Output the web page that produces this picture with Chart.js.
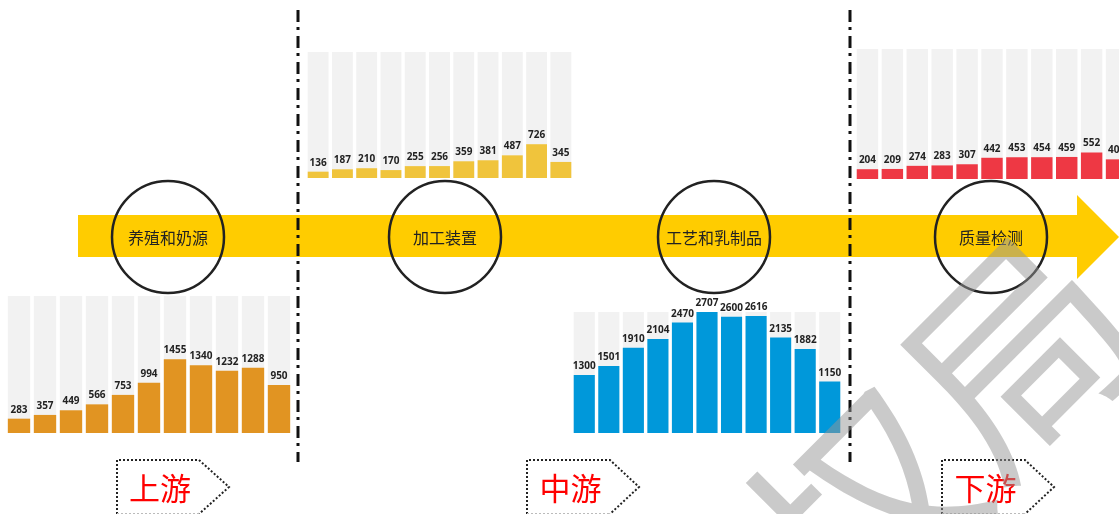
<!DOCTYPE html>
<html>
<head>
<meta charset="utf-8">
<script src="https://cdn.jsdelivr.net/npm/chart.js@4.4.1/dist/chart.umd.min.js"></script>
<style>
  html, body { margin: 0; padding: 0; background: #fff; overflow: hidden; }
  #stage { position: relative; width: 1119px; height: 514px; overflow: hidden; }
  .layer { position: absolute; left: 0; top: 0; }
  .box { position: absolute; }
</style>
</head>
<body>
<div id="stage">
  <canvas id="bg" class="layer" width="1119" height="514"></canvas>
  <div class="box" style="left:6px;top:282px;width:286px;height:151px"><canvas id="chartUp"></canvas></div>
  <div class="box" style="left:306px;top:38px;width:267px;height:140px"><canvas id="chartProc"></canvas></div>
  <div class="box" style="left:572px;top:298px;width:270px;height:135px"><canvas id="chartMid"></canvas></div>
  <div class="box" style="left:855px;top:35px;width:274px;height:144px"><canvas id="chartDown"></canvas></div>
  <canvas id="wm" class="layer" width="1119" height="514" style="pointer-events:none"></canvas>
</div>
<script>
// data
const periods = ['1', '2', '3', '4', '5', '6', '7', '8', '9', '10', '11'];
const upstreamValues = [283, 357, 449, 566, 753, 994, 1455, 1340, 1232, 1288, 950];
const processingValues = [136, 187, 210, 170, 255, 256, 359, 381, 487, 726, 345];
const midstreamValues = [1300, 1501, 1910, 2104, 2470, 2707, 2600, 2616, 2135, 1882, 1150];
const downstreamValues = [204, 209, 274, 283, 307, 442, 453, 454, 459, 552, 409];
const scaleMax = 2707;

const stageLabels = ['养殖和奶源', '加工装置', '工艺和乳制品', '质量检测'];
const tagLabels = ['上游', '中游', '下游'];

// value labels above each bar
const valueLabels = {
  id: 'valueLabels',
  afterDatasetsDraw(chart) {
    const ctx = chart.ctx;
    const meta = chart.getDatasetMeta(0);
    const values = chart.data.datasets[0].data;
    ctx.save();
    ctx.font = 'bold 10px "Open Sans", "Noto Sans", sans-serif';
    ctx.fillStyle = '#222';
    ctx.textAlign = 'center';
    meta.data.forEach((bar, i) => {
      ctx.fillText(values[i], bar.x, bar.y - 6);
    });
    ctx.restore();
  }
};

function makeBars(id, values, color) {
  new Chart(document.getElementById(id), {
    type: 'bar',
    data: {
      labels: periods,
      datasets: [
        { data: values, backgroundColor: color, grouped: false, barPercentage: 0.86, categoryPercentage: 1 },
        { data: values.map(() => scaleMax), backgroundColor: '#F2F2F2', grouped: false, barPercentage: 0.86, categoryPercentage: 1 }
      ]
    },
    options: {
      responsive: true,
      maintainAspectRatio: false,
      animation: false,
      layout: { padding: { top: 14, left: 0, right: 0, bottom: 0 } },
      plugins: { legend: { display: false }, tooltip: { enabled: false } },
      scales: {
        x: { display: false },
        y: { display: false, min: 0, max: scaleMax }
      }
    },
    plugins: [valueLabels]
  });
}

makeBars('chartUp', upstreamValues, '#E19422');
makeBars('chartProc', processingValues, '#F0C43C');
makeBars('chartMid', midstreamValues, '#0098DA');
makeBars('chartDown', downstreamValues, '#EE3844');

// background: arrow, circles, divider lines, tags
const bg = document.getElementById('bg').getContext('2d');

bg.fillStyle = '#FFCC00';
bg.beginPath();
bg.moveTo(78, 215);
bg.lineTo(1077, 215);
bg.lineTo(1077, 195);
bg.lineTo(1119, 237);
bg.lineTo(1077, 279);
bg.lineTo(1077, 257);
bg.lineTo(78, 257);
bg.closePath();
bg.fill();

// divider lines
bg.strokeStyle = '#111';
bg.lineWidth = 3;
bg.setLineDash([12, 5, 3, 6]);
[298, 850].forEach(x => {
  bg.beginPath();
  bg.moveTo(x, 10);
  bg.lineTo(x, 462);
  bg.stroke();
});
bg.setLineDash([]);

// circles
const circleX = [168, 445, 714, 991];
bg.lineWidth = 2.5;
bg.strokeStyle = '#222';
bg.font = '16px "Noto Sans CJK SC", sans-serif';
bg.textAlign = 'center';
bg.textBaseline = 'middle';
circleX.forEach((cx, i) => {
  bg.beginPath();
  bg.arc(cx, 237, 56, 0, Math.PI * 2);
  bg.stroke();
  bg.fillStyle = '#222';
  bg.fillText(stageLabels[i], cx, 238);
});

// dotted tags
const tags = [
  { left: 117, notch: 199, tip: 229 },
  { left: 527, notch: 610, tip: 639 },
  { left: 942, notch: 1025, tip: 1054 }
];
tags.forEach((t, i) => {
  bg.save();
  bg.strokeStyle = '#222';
  bg.lineWidth = 2;
  bg.setLineDash([2, 2]);
  bg.beginPath();
  bg.moveTo(t.left, 514);
  bg.lineTo(t.left, 460);
  bg.lineTo(t.notch, 460);
  bg.lineTo(t.tip, 487);
  bg.lineTo(t.notch, 514);
  bg.stroke();
  bg.strokeStyle = '#bbb';
  bg.lineWidth = 1;
  bg.beginPath();
  bg.moveTo(t.left, 513.5);
  bg.lineTo(t.notch, 513.5);
  bg.stroke();
  bg.restore();
  bg.fillStyle = '#FF0000';
  bg.font = '31px "Noto Sans CJK SC", sans-serif';
  bg.fillText(tagLabels[i], (t.left + t.notch) / 2 + 2, 488);
});

// watermark
const wm = document.getElementById('wm').getContext('2d');
wm.save();
wm.translate(940, 432);
wm.rotate(-Math.PI / 4);
wm.fillStyle = 'rgba(150, 150, 150, 0.5)';
wm.font = '220px "Noto Sans CJK SC", sans-serif';
wm.textAlign = 'center';
wm.textBaseline = 'middle';
wm.fillText('权局', 0, 0);
wm.restore();
</script>
</body>
</html>
